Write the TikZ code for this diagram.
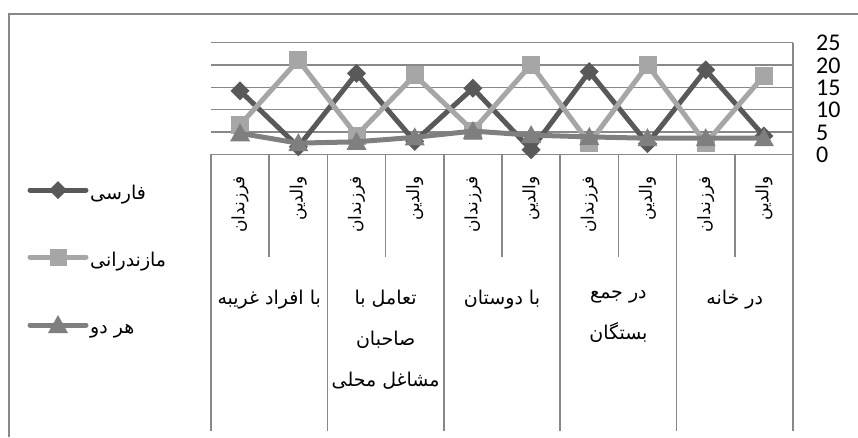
\documentclass[tikz,border=0pt]{standalone}
\usepackage{fontspec}
\setmainfont{Carlito}
\newfontfamily\arabicfont[Script=Arabic]{DejaVu Sans}
\TeXXeTstate=1
\definecolor{farsi}{HTML}{595959}
\definecolor{mazand}{HTML}{A6A6A6}
\definecolor{both}{HTML}{7F7F7F}
\definecolor{gridgray}{HTML}{888888}
\tikzset{
  frameline/.style={gridgray, line width=2pt},
  gridline/.style={gridgray, line width=1.6pt},
  serie/.style={line width=5pt, line join=round, line cap=round},
  catlabel/.style={font=\arabicfont\fontsize{17}{20}\selectfont, rotate=90, anchor=east, inner sep=0pt},
  grouplabel/.style={font=\arabicfont\fontsize{19}{41}\selectfont, align=center, anchor=north, inner sep=0pt},
  legendlabel/.style={font=\arabicfont\fontsize{19}{22}\selectfont, anchor=west, inner sep=0pt},
  valuelabel/.style={font=\fontsize{24}{24}\selectfont, anchor=west, inner sep=0pt, text height=15pt, text depth=0pt},
}
\begin{document}
\begin{tikzpicture}[x=1pt,y=-1pt]
	\useasboundingbox (0,0) rectangle (858,437);
	% Frame
	\draw[frameline] (9,437) -- (9,13.5) -- (858,13.5);
	% Grid
	\foreach \v in {0,5,...,25}
		\draw[gridline] (211,{154.3-4.466*\v}) -- (793,{154.3-4.466*\v});
	\draw[gridline] (793,42.7) -- (793,431);
	\foreach \gx in {211,327.4,443.8,560.2,676.6}
		\draw[gridline] (\gx,154.3) -- (\gx,431);
	\foreach \gx in {269.1,385.5,501.9,618.3,734.7}
		\draw[gridline] (\gx,154.3) -- (\gx,256.7);
	% Values
	\foreach \v in {0,5,...,25}
		\node[valuelabel] (val\v) at (816,{155-4.466*\v}) {\v};
	% Data points
	\foreach \v [count=\i] in {14.2,1.7,18.1,2.9,14.8,1.0,18.5,2.4,18.9,4.1}
		\coordinate (f\i) at ({211+58.2*(\i-0.5)},{154.3-4.466*\v});
	\foreach \v [count=\i] in {6.6,21.1,4.2,17.7,5.3,20.1,2.5,20.0,2.5,17.6}
		\coordinate (m\i) at ({211+58.2*(\i-0.5)},{154.3-4.466*\v});
	\foreach \v [count=\i] in {4.7,2.5,2.8,3.8,5.2,4.3,3.9,3.6,3.6,3.6}
		\coordinate (b\i) at ({211+58.2*(\i-0.5)},{154.3-4.466*\v});
	% Series
	\draw[serie,farsi] (f1) \foreach \i in {2,...,10}{ -- (f\i)};
	\foreach \i in {1,...,10}
		\fill[farsi] (f\i) +(-9.5,0) -- +(0,9.5) -- +(9.5,0) -- +(0,-9.5) -- cycle;
	\draw[serie,mazand] (m1) \foreach \i in {2,...,10}{ -- (m\i)};
	\foreach \i in {1,...,10}
		\fill[mazand] (m\i) +(-9,-9) rectangle +(9,9);
	\draw[serie,both] (b1) \foreach \i in {2,...,10}{ -- (b\i)};
	\foreach \i in {1,...,10}
		\fill[both] (b\i) +(0,-10) -- +(-10,8) -- +(10,8) -- cycle;
	% Categories
	\foreach \i in {1,3,5,7,9}
		\node[catlabel] (sub\i) at ({211+58.2*(\i-0.5)},176) {\beginR فرزندان\endR};
	\foreach \i in {2,4,6,8,10}
		\node[catlabel] (sub\i) at ({211+58.2*(\i-0.5)},176) {\beginR والدین\endR};
	\node[grouplabel] (grp1) at (269.2,290) {\beginR با افراد غریبه\endR};
	\node[grouplabel] (grp2) at (385.6,290) {\beginR تعامل با\endR\\\beginR صاحبان\endR\\\beginR مشاغل محلی\endR};
	\node[grouplabel] (grp3) at (502,290) {\beginR با دوستان\endR};
	\node[grouplabel] (grp4) at (618.4,290) {\beginR در جمع\endR\\\beginR بستگان\endR};
	\node[grouplabel] (grp5) at (734.8,290) {\beginR در خانه\endR};
	% Legend
	\coordinate (lf) at (58,190);
	\coordinate (lm) at (58,257);
	\coordinate (lb) at (58,325);
	\draw[serie,farsi] (lf) +(-28,0) -- +(28,0);
	\fill[farsi] (lf) +(-9,0) -- +(0,9) -- +(9,0) -- +(0,-9) -- cycle;
	\draw[serie,mazand] (lm) +(-28,0) -- +(28,0);
	\fill[mazand] (lm) +(-8.5,-8.5) rectangle +(8.5,8.5);
	\draw[serie,both] (lb) +(-28,0) -- +(28,0);
	\fill[both] (lb) +(0,-10) -- +(-10,8) -- +(10,8) -- cycle;
	\node[legendlabel] (leg1) at (90,195) {\beginR فارسی\endR};
	\node[legendlabel] (leg2) at (90,262) {\beginR مازندرانی\endR};
	\node[legendlabel] (leg3) at (90,331) {\beginR هر دو\endR};
\end{tikzpicture}
\end{document}
